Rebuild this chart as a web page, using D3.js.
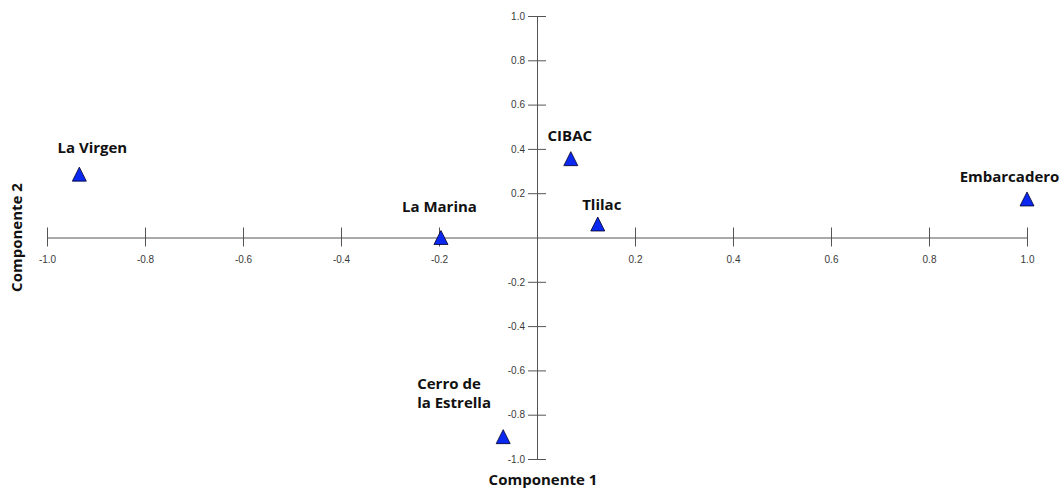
<!DOCTYPE html>
<html>
<head>
<meta charset="utf-8">
<script src="https://cdn.jsdelivr.net/npm/d3@7"></script>
<style>
  body { margin: 0; background: #fff; }
  svg { display: block; }
  .tick text { font-family: Arial, "Liberation Sans", sans-serif; font-size: 10px; fill: #3a3a3a; }
  .site-label, .axis-title { font-family: "Open Sans", sans-serif; font-weight: bold; font-size: 15px; fill: #111; }
</style>
</head>
<body>
<svg id="chart"></svg>
<script>
// sites and their scores on the two components
const sites = ["La Virgen", "CIBAC", "Tlilac", "La Marina", "Embarcadero", "Cerro de la Estrella"];
const comp1 = [-0.934, 0.069, 0.124, -0.196, 1.0, -0.069];
const comp2 = [0.286, 0.356, 0.061, 0.0, 0.174, -0.899];
const tickValues = [-1.0, -0.8, -0.6, -0.4, -0.2, 0.2, 0.4, 0.6, 0.8, 1.0];

const width = 1063;
const height = 489;

const svg = d3.select("#chart").attr("width", width).attr("height", height);

const x = d3.scaleLinear().domain([-1, 1]).range([47, 1027]);
const y = d3.scaleLinear().domain([-1, 1]).range([459, 16]);

const fmt = (d) => d.toFixed(1);

// x axis through the origin, ticks cross the line
const xAxis = svg
  .append("g")
  .attr("transform", `translate(0,${y(0)})`)
  .call(d3.axisBottom(x).tickValues(tickValues).tickFormat(fmt).tickSize(9).tickSizeOuter(0).tickPadding(9));
xAxis.select(".domain").attr("stroke", "#555");
xAxis.selectAll(".tick line").attr("y1", -10).attr("stroke", "#555");

// y axis through the origin, ticks cross the line too
const yAxis = svg
  .append("g")
  .attr("transform", `translate(${x(0)},0)`)
  .call(d3.axisLeft(y).tickValues(tickValues).tickFormat(fmt).tickSize(9).tickSizeOuter(0).tickPadding(3));
yAxis.select(".domain").attr("stroke", "#555");
yAxis.selectAll(".tick line").attr("x1", -9).attr("x2", 9).attr("stroke", "#555");

// axis titles
svg
  .append("text")
  .attr("class", "axis-title")
  .attr("text-anchor", "middle")
  .attr("x", 543)
  .attr("y", 485)
  .text("Componente 1");
svg
  .append("text")
  .attr("class", "axis-title")
  .attr("text-anchor", "middle")
  .attr("transform", `translate(22,${y(0)}) rotate(-90)`)
  .text("Componente 2");

const points = sites.map((name, i) => ({ name, c1: comp1[i], c2: comp2[i] }));

// label placement relative to the marker (pixels)
const labelPos = {
  "La Virgen": { dx: 13, dy: -21.5, anchor: "middle" },
  "CIBAC": { dx: -1, dy: -18, anchor: "middle" },
  "Tlilac": { dx: 4, dy: -13.5, anchor: "middle" },
  "La Marina": { dx: -1.5, dy: -26, anchor: "middle" },
  "Embarcadero": { dx: -17.5, dy: -16.5, anchor: "middle" },
  "Cerro de la Estrella": { dx: -86, dy: -47.5, anchor: "start", lines: ["Cerro de", "la Estrella"] },
};

const r = 7;
svg
  .append("g")
  .selectAll("path")
  .data(points)
  .join("path")
  .attr("d", (d) => {
    const px = x(d.c1);
    const py = y(d.c2);
    return `M${px},${py - r}L${px + r},${py + r}L${px - r},${py + r}Z`;
  })
  .attr("fill", "#0a28f0")
  .attr("stroke", "#00002a")
  .attr("stroke-width", 0.8);

const labels = svg
  .append("g")
  .selectAll("text")
  .data(points)
  .join("text")
  .attr("class", "site-label")
  .attr("text-anchor", (d) => labelPos[d.name].anchor)
  .attr("x", (d) => x(d.c1) + labelPos[d.name].dx)
  .attr("y", (d) => y(d.c2) + labelPos[d.name].dy);

labels.each(function (d) {
  const lp = labelPos[d.name];
  const t = d3.select(this);
  if (lp.lines) {
    lp.lines.forEach((ln, i) => {
      t.append("tspan")
        .attr("x", x(d.c1) + lp.dx)
        .attr("dy", i === 0 ? 0 : 18.5)
        .text(ln);
    });
  } else {
    t.text(d.name);
  }
});
</script>
</body>
</html>
